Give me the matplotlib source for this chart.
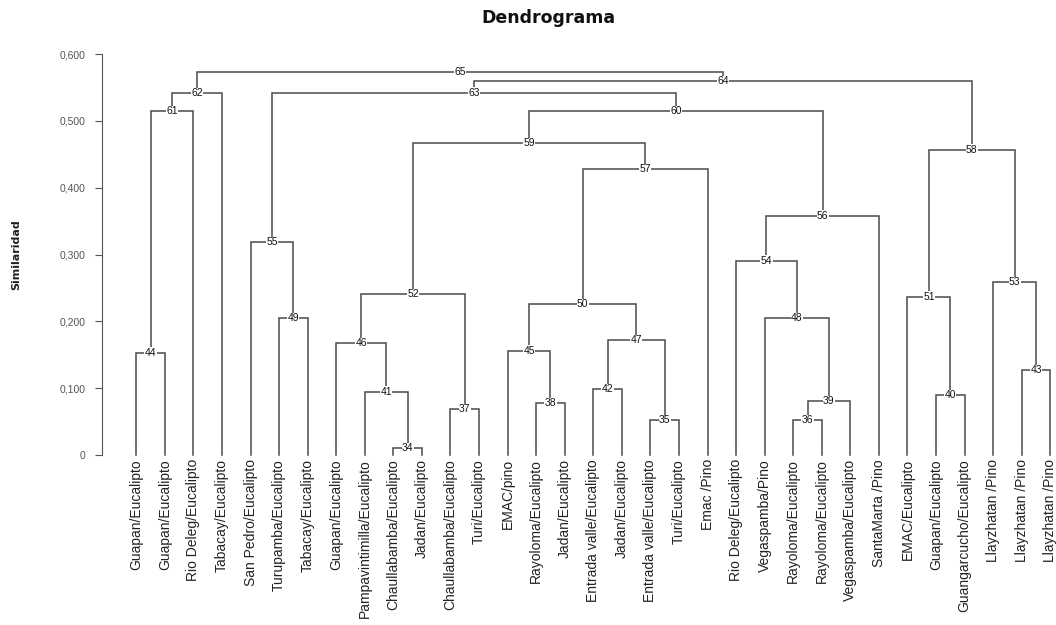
import matplotlib
matplotlib.use("Agg")
import matplotlib.pyplot as plt

# hojas del dendrograma (numeradas 1..33 en el orden en que aparecen)
leaf_labels = [
    "Guapan/Eucalipto", "Guapan/Eucalipto", "Rio Deleg/Eucalipto", "Tabacay/Eucalipto",
    "San Pedro/Eucalipto", "Turupamba/Eucalipto", "Tabacay/Eucalipto", "Guapan/Eucalipto",
    "Pampavintimilla/Eucalipto", "Chaullabamba/Eucalipto", "Jadan/Eucalipto",
    "Chaullabamba/Eucalipto", "Turi/Eucalipto", "EMAC/pino", "Rayoloma/Eucalipto",
    "Jadan/Eucalipto", "Entrada valle/Eucalipto", "Jadan/Eucalipto",
    "Entrada valle/Eucalipto", "Turi/Eucalipto", "Emac /Pino", "Rio Deleg/Eucalipto",
    "Vegaspamba/Pino", "Rayoloma/Eucalipto", "Rayoloma/Eucalipto",
    "Vegaspamba/Eucalipto", "SantaMarta /Pino", "EMAC/Eucalipto", "Guapan/Eucalipto",
    "Guangarcucho/Eucalipto", "Llayzhatan /Pino", "Llayzhatan /Pino", "Llayzhatan /Pino",
]

# uniones: nodo, hijo izquierdo, hijo derecho, similaridad
node_ids = [34, 35, 36, 37, 38, 39, 40, 41, 42, 43, 44, 45, 46, 47, 48, 49,
            50, 51, 52, 53, 54, 55, 56, 57, 58, 59, 60, 61, 62, 63, 64, 65]
left_child = [10, 19, 24, 12, 15, 36, 29, 9, 17, 32, 1, 14, 8, 42, 23, 6,
              45, 28, 46, 31, 22, 5, 54, 50, 51, 52, 59, 44, 61, 55, 63, 62]
right_child = [11, 20, 25, 13, 16, 26, 30, 34, 18, 33, 2, 38, 41, 35, 39, 7,
               47, 40, 37, 43, 48, 49, 27, 21, 53, 57, 56, 3, 4, 60, 58, 64]
heights = [0.010, 0.052, 0.052, 0.069, 0.078, 0.081, 0.090, 0.095, 0.099, 0.127,
           0.153, 0.156, 0.167, 0.172, 0.205, 0.205, 0.226, 0.237, 0.241, 0.259,
           0.291, 0.318, 0.358, 0.428, 0.457, 0.467, 0.514, 0.514, 0.541, 0.542,
           0.559, 0.573]

y_ticks = [0, 0.1, 0.2, 0.3, 0.4, 0.5, 0.6]
y_tick_labels = ["0", "0,100", "0,200", "0,300", "0,400", "0,500", "0,600"]

line_color = "#4a4a4a"

fig = plt.figure(figsize=(10.56, 6.25), dpi=100)
ax = fig.add_axes([102 / 1056, (625 - 455) / 625, (1056 - 102) / 1056, (455 - 54) / 625])

# posiciones de hojas y nodos
pos_x = {}
pos_y = {}
for i in range(len(leaf_labels)):
    pos_x[i + 1] = i
    pos_y[i + 1] = 0.0

for nid, a, b, h in zip(node_ids, left_child, right_child, heights):
    xa, xb = pos_x[a], pos_x[b]
    ax.plot([xa, xa, xb, xb], [pos_y[a], h, h, pos_y[b]], color=line_color,
            lw=1.1, solid_joinstyle="miter", clip_on=False)
    pos_x[nid] = (xa + xb) / 2
    pos_y[nid] = h
    ax.text(pos_x[nid], h, str(nid), ha="center", va="center", fontsize=7.5,
            family="Liberation Sans", color="#111111",
            bbox=dict(facecolor="white", edgecolor="none", pad=0.2))

# etiquetas de hojas
for i, lab in enumerate(leaf_labels):
    ax.text(i, -0.006, lab, rotation=90, ha="center", va="top", fontsize=10,
            family="Liberation Sans", color="#222222")

ax.set_xlim(-1.2, 32.2)
ax.set_ylim(0, 0.6)
ax.set_yticks(y_ticks)
ax.set_yticklabels(y_tick_labels, family="Liberation Sans", fontsize=7.5, color="#555555")
ax.tick_params(axis="y", length=5, width=0.8, color="#555555", pad=7)
ax.set_xticks([])
for side in ["top", "right", "bottom"]:
    ax.spines[side].set_visible(False)
ax.spines["left"].set_color("#555555")
ax.spines["left"].set_linewidth(0.8)

fig.text(548 / 1056, 1 - 18 / 625, "Dendrograma", ha="center", va="center",
         fontsize=12.5, fontweight="bold", family="DejaVu Sans", color="#111111")
fig.text(16 / 1056, 1 - 255 / 625, "Similaridad", rotation=90, ha="center",
         va="center", fontsize=8, fontweight="bold", family="DejaVu Sans", color="#222222")

fig.savefig("out.png", dpi=100)
